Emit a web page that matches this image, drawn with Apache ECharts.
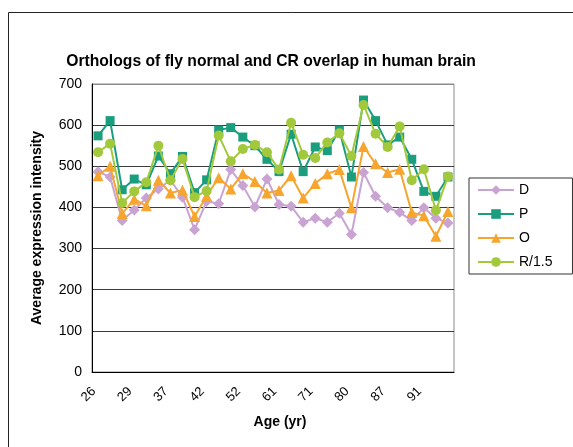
<!DOCTYPE html>
<html>
<head>
<meta charset="utf-8">
<script src="https://cdn.jsdelivr.net/npm/echarts@6/dist/echarts.min.js"></script>
<style>
html,body{margin:0;padding:0;background:#fff;}
#c{width:573px;height:447px;}
</style>
</head>
<body>
<div id="c"></div>
<script>
// Category labels (only every third age is printed in the original)
const ages = ['26','27','28','29','33','35','37','39','40','42','45','49','52','55','58','61','64','68','71','74','77','80','82','85','87','88','90','91','93','95'];
const seriesNames = ['D','P','O','R/1.5'];
const D = [487,474,368,394,423,445,466,425,346,415,409,492,453,401,469,407,403,364,374,364,386,334,485,427,399,388,368,399,374,362];
const P = [574,611,443,469,455,525,482,524,436,467,588,594,571,550,517,487,578,487,547,538,588,474,661,611,552,571,517,439,427,474];
const O = [477,500,385,420,404,466,435,442,378,428,472,445,482,463,435,441,477,423,458,482,492,399,548,506,485,493,388,380,330,390];
const R = [534,555,411,439,461,550,466,518,425,440,575,512,542,552,534,492,606,528,520,558,580,525,649,579,547,597,466,493,393,475];
const yTicks = [0,100,200,300,400,500,600,700];

const FONT = '"Liberation Sans", Arial, sans-serif';
const colors = ['#C9A3D1','#1A9E7E','#F6A52F','#A2C83B'];
const symbols = ['diamond','rect','triangle','circle'];
const sizes = [11,9,11,10];
const datasets = [D,P,O,R];

const chart = echarts.init(document.getElementById('c'), null, {renderer:'canvas'});
chart.setOption({
  animation:false,
  backgroundColor:'#fff',
  textStyle:{fontFamily:FONT},
  title:{
    text:'Orthologs of fly normal and CR overlap in human brain',
    left:266, top:49, textAlign:'center',
    textStyle:{fontFamily:FONT,fontSize:15.7,fontWeight:'bold',color:'#000'}
  },
  graphic:[
    {type:'rect',shape:{x:8.5,y:12.5,width:700,height:600},style:{fill:'none',stroke:'#222',lineWidth:1},silent:true,z:-1}
  ],
  legend:{
    orient:'vertical',
    left:469, top:178,
    padding:[5,20,5,8],
    itemGap:10,
    itemWidth:36, itemHeight:12,
    borderColor:'#333', borderWidth:1,
    backgroundColor:'#fff',
    textStyle:{fontFamily:FONT,fontSize:14,color:'#000'},
    data:seriesNames
  },
  grid:{left:92,right:119,top:84,bottom:75,show:true,borderColor:'#8c8c8c',borderWidth:1},
  xAxis:{
    type:'category',
    data:ages,
    boundaryGap:true,
    axisLine:{lineStyle:{color:'#000',width:1}},
    axisTick:{inside:true,length:4,interval:0,lineStyle:{color:'#000'}},
    axisLabel:{interval:2,rotate:45,margin:13,padding:[0,6,0,0],fontSize:13,color:'#000',fontFamily:FONT},
    name:'Age (yr)',
    nameLocation:'middle',
    nameGap:43,
    nameTextStyle:{fontFamily:FONT,fontSize:14,fontWeight:'bold',color:'#000',padding:[0,0,0,14]}
  },
  yAxis:{
    type:'value',
    min:0,max:700,interval:100,
    axisLine:{show:true,lineStyle:{color:'#000',width:1}},
    axisTick:{show:false},
    axisLabel:{margin:10,fontSize:14,color:'#000',fontFamily:FONT},
    splitLine:{show:true,lineStyle:{color:['#3a3a3a','#3a3a3a','#3a3a3a','#3a3a3a','#3a3a3a','#3a3a3a','#3a3a3a','#8c8c8c'],width:1}},
    name:'Average expression intensity',
    nameLocation:'middle',
    nameGap:48,
    nameTextStyle:{fontFamily:FONT,fontSize:14,fontWeight:'bold',color:'#000'}
  },
  series:seriesNames.map((n,i)=>({
    name:n,
    type:'line',
    data:datasets[i],
    symbol:symbols[i],
    symbolSize:sizes[i],
    showAllSymbol:true,
    lineStyle:{color:colors[i],width:2},
    itemStyle:{color:colors[i],borderWidth:0},
    z:2+i
  }))
});
</script>
</body>
</html>
